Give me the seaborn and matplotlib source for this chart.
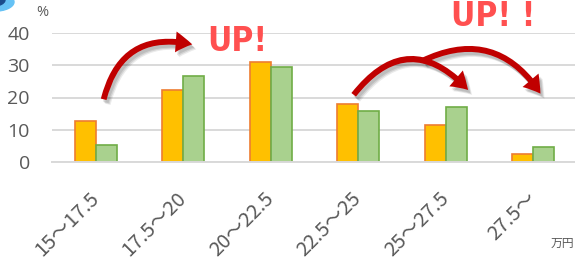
import numpy as np
import pandas as pd
import matplotlib
matplotlib.use("Agg")
import matplotlib.pyplot as plt
import seaborn as sns
from matplotlib.patches import FancyArrowPatch, Circle, ArrowStyle

categories = ["15～17.5", "17.5～20", "20～22.5", "22.5～25", "25～27.5", "27.5～"]
series_a = [12.8, 22.4, 31.0, 17.9, 11.6, 2.6]
series_b = [5.3, 26.6, 29.6, 15.8, 17.1, 4.7]
series_names = ["A", "B"]
yticks = [0, 10, 20, 30, 40]

df = pd.DataFrame({
    "cat": categories * 2,
    "val": series_a + series_b,
    "series": [series_names[0]] * len(categories) + [series_names[1]] * len(categories),
})

sns.set_theme(style="white")
plt.rcParams['font.family'] = ['Noto Sans CJK JP', 'DejaVu Sans']

W, H = 575, 267
fig = plt.figure(figsize=(W / 100, H / 100), dpi=100)
ax_left, ax_right = 52, 577
ax_top, ax_bot = 33, 162
ax = fig.add_axes([ax_left / W, 1 - ax_bot / H, (ax_right - ax_left) / W, (ax_bot - ax_top) / H])

faces = {"A": "#ffc000", "B": "#a9d18e"}
edges = ["#ed7d31", "#70ad47"]
sns.barplot(data=df, x="cat", y="val", hue="series", palette=faces, width=0.48,
            ax=ax, legend=False, saturation=1)
for cont, ec in zip(ax.containers, edges):
    for p in cont:
        p.set_edgecolor(ec)
        p.set_linewidth(1.2)

ax.set_ylim(0, 40)
ax.set_xlim(-0.5, len(categories) - 0.5)
ax.set_yticks(yticks)
ax.yaxis.grid(True, color="#d9d9d9", linewidth=1.4)
ax.set_axisbelow(True)
for s in ["top", "right", "left"]:
    ax.spines[s].set_visible(False)
ax.spines["bottom"].set_color("#d9d9d9")
ax.spines["bottom"].set_linewidth(1.4)
ax.set_xlabel("")
ax.set_ylabel("")
ax.tick_params(axis="y", length=0, pad=16, labelsize=14, labelcolor="#595959")
ax.tick_params(axis="x", length=0, pad=24, labelsize=14.5, labelcolor="#595959")
for lab in ax.get_yticklabels():
    lab.set_family(['Open Sans', 'DejaVu Sans'])
for lab in ax.get_xticklabels():
    lab.set_rotation(45)
    lab.set_ha("right")
    lab.set_va("center")
    lab.set_rotation_mode("anchor")

def fp(x, y):
    return (x / W, 1 - y / H)

fig.text(*fp(42, 13), "%", fontsize=10.5, color="#595959", ha="center", va="center",
         family=['Open Sans', 'DejaVu Sans'])
fig.text(*fp(562, 243), "万円", fontsize=8.5, color="#595959", ha="center", va="center")

# arrows
def arrow(p1, p2, rad):
    st = ArrowStyle.Simple(head_length=12, head_width=15, tail_width=4.2)
    for off, al in [(4, 0.08), (3, 0.1), (2, 0.1)]:
        sh = FancyArrowPatch(fp(p1[0] + off, p1[1] + off + 1), fp(p2[0] + off, p2[1] + off + 1),
                             transform=fig.transFigure, connectionstyle=f"arc3,rad={rad}",
                             arrowstyle=st, color="#000000", alpha=al, lw=0, zorder=8)
        fig.add_artist(sh)
    a = FancyArrowPatch(fp(*p1), fp(*p2), transform=fig.transFigure,
                        connectionstyle=f"arc3,rad={rad}", arrowstyle=st,
                        color="#c00000", lw=0, zorder=9)
    fig.add_artist(a)

arrow((103, 102), (195, 45), -0.5)
arrow((352, 97), (470, 92), -0.6)
arrow((420, 62), (542, 96), -0.45)

fig.text(*fp(237, 42), "UP!", fontsize=24, fontweight="bold", color="#ff5050",
         ha="center", va="center", family="DejaVu Sans", fontstretch="condensed")
fig.text(*fp(493, 16), "UP! !", fontsize=24, fontweight="bold", color="#ff5050",
         ha="center", va="center", family="DejaVu Sans", fontstretch="condensed")

# partial icon at top-left
fig.add_artist(Circle(fp(-6, 2), 20 / W, transform=fig.transFigure, color="#66c2f5", zorder=5))
fig.add_artist(Circle(fp(-9, 0), 14 / W, transform=fig.transFigure, color="#1a4c8c", zorder=6))

fig.savefig("out.png", dpi=100)
